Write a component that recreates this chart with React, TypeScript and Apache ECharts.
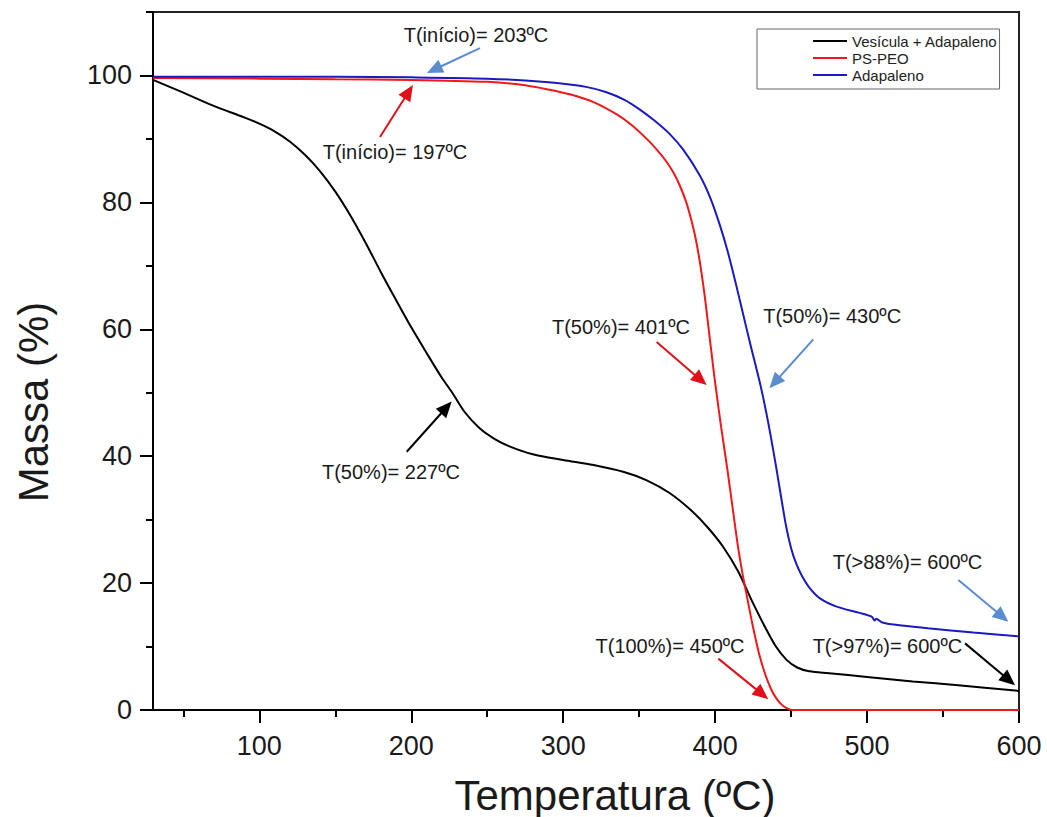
import React, { useEffect, useRef } from "react";
import * as echarts from "echarts";

// ---- Data (temperature ºC, mass %) ----
const seriesNames = ["Vesícula + Adapaleno", "PS-PEO", "Adapaleno"];

const vesiculaAdapaleno: [number, number][] = [
  [30, 99.3], [50, 97.3], [70, 95.2], [90, 93.4], [100, 92.4], [110, 91.2], [120, 89.6],
  [130, 87.5], [140, 84.9], [150, 81.7], [160, 77.9], [170, 73.6], [180, 69.0], [190, 64.6],
  [200, 60.3], [210, 56.3], [220, 52.4], [227, 50.0], [235, 47.0], [245, 44.4], [255, 42.7],
  [265, 41.5], [280, 40.3], [300, 39.4], [320, 38.6], [340, 37.5], [355, 36.2], [370, 34.2],
  [385, 31.3], [395, 28.8], [405, 25.8], [415, 21.9], [425, 16.8], [433, 13.0], [440, 10.0],
  [447, 7.9], [454, 6.7], [462, 6.1], [475, 5.8], [500, 5.2], [530, 4.5], [560, 3.9],
  [600, 3.0],
];

const psPeo: [number, number][] = [
  [30, 99.6], [100, 99.5], [150, 99.4], [200, 99.3], [250, 99.0], [270, 98.6], [290, 97.8],
  [305, 97.0], [320, 95.8], [335, 93.9], [345, 92.2], [355, 90.0], [362, 88.2], [368, 86.4],
  [373, 84.5], [377, 82.5], [381, 80.0], [384, 77.5], [387, 74.5], [390, 70.5], [393, 65.5],
  [396, 59.5], [399, 53.5], [401, 49.8], [404, 44.5], [408, 38.0], [412, 31.0], [415, 25.8],
  [418, 21.5], [421, 17.8], [425, 13.0], [429, 8.8], [433, 5.6], [437, 3.2], [441, 1.6],
  [445, 0.6], [449, 0.1], [452, 0], [500, 0], [600, 0],
];

const adapaleno: [number, number][] = [
  [30, 99.8], [150, 99.8], [200, 99.7], [250, 99.5], [275, 99.2], [300, 98.7], [315, 98.2],
  [328, 97.4], [340, 96.2], [350, 94.7], [360, 92.9], [370, 90.8], [379, 88.3], [390, 84.2],
  [397, 80.6], [403, 76.5], [408, 72.5], [413, 67.8], [418, 62.8], [423, 57.8], [430, 51.0],
  [435, 45.2], [440, 38.5], [444, 32.7], [447, 28.6], [450, 25.5], [453, 23.3], [457, 21.2],
  [462, 19.3], [469, 17.6], [480, 16.3], [495, 15.3], [503, 14.7], [505, 14.1], [506, 14.4],
  [510, 13.8], [520, 13.4], [540, 12.9], [570, 12.2], [600, 11.6],
];

const xTicks = [100, 200, 300, 400, 500, 600];
const xMinorTicks = [50, 150, 250, 350, 450, 550];
const yTicks = [0, 20, 40, 60, 80, 100];
const yMinorTicks = [10, 30, 50, 70, 90, 110];

const annotationTexts = [
  "T(início)= 203ºC",
  "T(início)= 197ºC",
  "T(50%)= 227ºC",
  "T(50%)= 401ºC",
  "T(50%)= 430ºC",
  "T(>88%)= 600ºC",
  "T(>97%)= 600ºC",
  "T(100%)= 450ºC",
];
// label centre, arrow start, arrow tip (data coordinates)
const annotationAt: [number, number][] = [
  [242.6, 106.4], [189.3, 87.9], [186.6, 37.5], [338, 60.4],
  [477, 62.1], [526.6, 23.3], [513.4, 10.1], [370.3, 10.1],
];
const arrowFrom: [number, number][] = [
  [245.2, 104.3], [179.4, 90.3], [197, 40.7], [361.5, 58.0],
  [464.6, 58.4], [560.1, 20.5], [564.5, 10.5], [402.1, 8.1],
];
const arrowTo: [number, number][] = [
  [210.3, 100.4], [201.1, 98.5], [226.6, 48.6], [394.4, 51.2],
  [435.7, 50.7], [593, 13.9], [597.4, 3.9], [435, 1.7],
];

const FONT = "'Liberation Sans', Arial, sans-serif";
const BLACK = "#000000";
const RED = "#f01818";
const BLUE = "#1a1ac0";
const ARROW_RED = "#e0101a";
const ARROW_BLUE = "#5a8ccf";
const arrowColors = [ARROW_BLUE, ARROW_RED, BLACK, ARROW_RED, ARROW_BLUE, ARROW_BLUE, BLACK, ARROW_RED];

export default function App() {
  const ref = useRef<HTMLDivElement>(null);

  useEffect(() => {
    if (!ref.current) return;
    const chart = echarts.init(ref.current, undefined, { renderer: "svg" });

    const axisLineStyle = { color: "#000", width: 2 };
    const labelStyle = { fontSize: 27, color: "#1a1a1a", fontFamily: FONT };

    chart.setOption({
      animation: false,
      backgroundColor: "#ffffff",
      grid: {
        left: 153,
        right: 28,
        top: 12,
        bottom: 107,
        show: true,
        borderColor: "#222",
        borderWidth: 2,
        backgroundColor: "transparent",
      },
      legend: {
        orient: "vertical",
        left: 757,
        top: 29,
        padding: [4, 2, 6, 56],
        itemGap: 1,
        itemWidth: 34,
        itemHeight: 2,
        icon: "rect",
        borderColor: "#666",
        borderWidth: 1,
        textStyle: { fontSize: 15, lineHeight: 16, color: "#222", fontFamily: FONT },
        data: seriesNames,
      },
      xAxis: [
        {
          type: "value",
          min: 30,
          max: 600,
          position: "bottom",
          axisLine: { show: true, onZero: false, lineStyle: axisLineStyle },
          axisTick: { show: true, inside: false, length: 13, lineStyle: axisLineStyle, customValues: xTicks },
          axisLabel: { ...labelStyle, margin: 22, customValues: xTicks },
          splitLine: { show: false },
        },
        {
          type: "value",
          min: 30,
          max: 600,
          position: "bottom",
          axisLine: { show: false, onZero: false },
          axisTick: { show: true, inside: false, length: 7, lineStyle: axisLineStyle, customValues: xMinorTicks },
          axisLabel: { show: false },
          splitLine: { show: false },
        },
      ],
      yAxis: [
        {
          type: "value",
          min: 0,
          max: 110,
          position: "left",
          axisLine: { show: true, onZero: false, lineStyle: axisLineStyle },
          axisTick: { show: true, inside: false, length: 13, lineStyle: axisLineStyle, customValues: yTicks },
          axisLabel: { ...labelStyle, margin: 21, customValues: yTicks },
          splitLine: { show: false },
        },
        {
          type: "value",
          min: 0,
          max: 110,
          position: "left",
          axisLine: { show: false, onZero: false },
          axisTick: { show: true, inside: false, length: 7, lineStyle: axisLineStyle, customValues: yMinorTicks },
          axisLabel: { show: false },
          splitLine: { show: false },
        },
      ],
      series: [
        { name: seriesNames[0], data: vesiculaAdapaleno, color: BLACK },
        { name: seriesNames[1], data: psPeo, color: RED },
        { name: seriesNames[2], data: adapaleno, color: BLUE },
      ].map((s) => ({
        type: "line",
        name: s.name,
        data: s.data,
        xAxisIndex: 0,
        yAxisIndex: 0,
        symbol: "none",
        smooth: 0.3,
        itemStyle: { color: s.color },
        lineStyle: { color: s.color, width: 2 },
      })),
    });

    const toPx = (p: [number, number]) =>
      chart.convertToPixel({ gridIndex: 0 }, p) as unknown as number[];

    const graphics: any[] = [];
    annotationTexts.forEach((txt, i) => {
      const c = toPx(annotationAt[i]);
      const a = toPx(arrowFrom[i]);
      const b = toPx(arrowTo[i]);
      const dx = b[0] - a[0];
      const dy = b[1] - a[1];
      const len = Math.sqrt(dx * dx + dy * dy);
      const ux = dx / len;
      const uy = dy / len;
      const hl = 16;
      const hw = 7;
      const bx = b[0] - ux * hl;
      const by = b[1] - uy * hl;
      const color = arrowColors[i];
      graphics.push({
        type: "line",
        shape: { x1: a[0], y1: a[1], x2: bx + ux * 2, y2: by + uy * 2 },
        style: { stroke: color, lineWidth: 2 },
        z: 100,
      });
      graphics.push({
        type: "polygon",
        shape: {
          points: [
            [b[0], b[1]],
            [bx - uy * hw, by + ux * hw],
            [bx + uy * hw, by - ux * hw],
          ],
        },
        style: { fill: color },
        z: 100,
      });
      graphics.push({
        type: "text",
        x: c[0],
        y: c[1],
        style: {
          text: txt,
          fill: "#1a1a1a",
          fontSize: 20,
          fontFamily: FONT,
          align: "center",
          verticalAlign: "middle",
        },
        z: 100,
      });
    });

    graphics.push({
      type: "text",
      x: 615,
      y: 795,
      style: {
        text: "Temperatura (ºC)",
        fill: "#1a1a1a",
        fontSize: 42,
        fontFamily: FONT,
        align: "center",
        verticalAlign: "middle",
      },
    });
    graphics.push({
      type: "text",
      x: 33,
      y: 402,
      rotation: Math.PI / 2,
      style: {
        text: "Massa (%)",
        fill: "#1a1a1a",
        fontSize: 42,
        fontFamily: FONT,
        align: "center",
        verticalAlign: "middle",
      },
    });

    chart.setOption({ graphic: graphics });

    return () => {
      chart.dispose();
    };
  }, []);

  return (
    <div
      ref={ref}
      style={{ position: "absolute", left: 0, top: 0, width: 1047, height: 817, background: "#fff" }}
    />
  );
}
